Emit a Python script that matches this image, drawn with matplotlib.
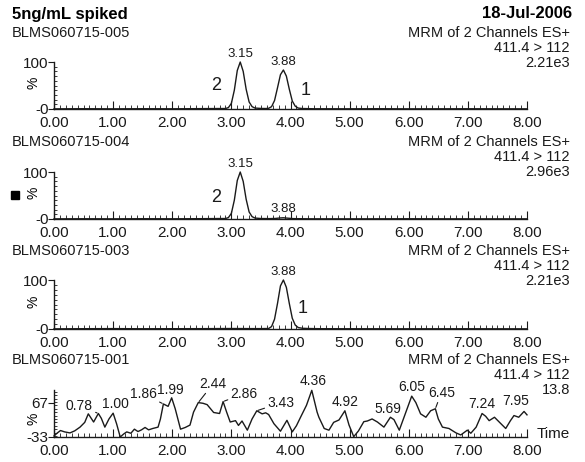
import matplotlib
matplotlib.use("Agg")
import matplotlib.pyplot as plt
from matplotlib.ticker import MultipleLocator, FixedLocator, FixedFormatter

plt.rcParams['font.family'] = ['Liberation Sans', 'DejaVu Sans']

W, H = 585, 462

# --- data (time in min, intensity in %) ---
t_005 = [0.0, 0.5, 1.0, 1.5, 2.0, 2.5, 2.8, 2.90, 2.95, 3.00, 3.05, 3.10, 3.15, 3.20, 3.25,
         3.30, 3.35, 3.40, 3.50, 3.58, 3.63, 3.68, 3.73, 3.78, 3.83, 3.88, 3.93, 3.98,
         4.03, 4.08, 4.13, 4.20, 4.40, 5.0, 5.5, 6.0, 7.0, 8.0]
y_005 = [0.3, 0.6, 0.3, 0.6, 0.4, 0.8, 1.0, 1.0, 3, 12, 40, 82, 100, 80, 42,
         15, 5, 2, 1.2, 1.0, 1.5, 5, 18, 45, 73, 83, 70, 42,
         17, 6, 2, 1.0, 0.5, 0.4, 0.6, 0.3, 0.5, 0.3]

t_004 = [0.0, 0.5, 1.0, 1.5, 2.0, 2.5, 2.8, 2.90, 2.95, 3.00, 3.05, 3.10, 3.15, 3.20, 3.25,
         3.30, 3.35, 3.40, 3.50, 3.65, 3.75, 3.82, 3.88, 3.95, 4.05, 4.3, 5.0, 6.0, 7.0, 8.0]
y_004 = [0.3, 0.5, 0.3, 0.6, 0.4, 0.7, 1.0, 1.0, 3, 12, 40, 82, 100, 80, 42,
         15, 5, 2, 1.0, 0.8, 1.2, 2.2, 2.6, 1.8, 0.8, 0.4, 0.3, 0.5, 0.3, 0.3]

t_003 = [0.0, 0.5, 1.0, 1.5, 2.0, 2.5, 3.0, 3.3, 3.5, 3.63, 3.68, 3.73, 3.78, 3.83, 3.88,
         3.93, 3.98, 4.03, 4.08, 4.13, 4.20, 4.30, 4.5, 5.0, 6.0, 7.0, 8.0]
y_003 = [0.3, 0.6, 0.8, 0.5, 0.6, 0.7, 1.0, 0.8, 0.8, 1.0, 5, 20, 52, 88, 100,
         85, 52, 22, 8, 3, 1.5, 1.0, 0.6, 0.5, 0.4, 0.5, 0.3]

t_001 = [0.00, 0.05, 0.11, 0.18, 0.27, 0.35, 0.44, 0.52, 0.58, 0.67, 0.75, 0.80, 0.86, 0.93,
         1.00, 1.06, 1.12, 1.18, 1.23, 1.30, 1.36, 1.42, 1.48, 1.54, 1.60, 1.67, 1.76, 1.80,
         1.85, 1.93, 1.99, 2.05, 2.14, 2.22, 2.30, 2.36, 2.44, 2.52, 2.59, 2.70, 2.80, 2.86,
         2.92, 2.98, 3.07, 3.12, 3.18, 3.27, 3.35, 3.43, 3.52, 3.58, 3.63, 3.72, 3.83, 3.94,
         4.03, 4.10, 4.17, 4.27, 4.36, 4.45, 4.48, 4.57, 4.65, 4.73, 4.82, 4.92, 4.99, 5.07,
         5.15, 5.24, 5.30, 5.38, 5.47, 5.58, 5.69, 5.75, 5.84, 5.92, 6.05, 6.12, 6.20, 6.29,
         6.37, 6.45, 6.50, 6.57, 6.68, 6.80, 6.88, 6.99, 7.05, 7.14, 7.24, 7.30, 7.36, 7.45,
         7.53, 7.64, 7.72, 7.78, 7.86, 7.95, 8.00]
y_001 = [-30, -22, -14, -18, -21, -15, -4, 10, 35, 11, 36, 22, -4, 20,
         37, 5, -33, -24, -18, -22, -10, -17, -12, -5, -12, -8, -4, 20,
         64, 57, 82, 50, -10, -5, 2, 40, 68, 66, 62, 39, 36, 71,
         40, 11, 15, 1, 14, -13, 20, 44, 35, 38, 33, 6, -16, 16,
         -18, 0, 25, 60, 104, 40, 25, -8, -13, 10, 17, 44, 2, -32,
         -15, 12, 14, 20, 11, -4, 25, 18, -13, 25, 87, 68, 35, 25,
         44, 50, 20, -4, -8, -21, -27, -13, -22, -4, 36, 28, 15, 25,
         11, -8, 15, 30, 25, 42, 32]

sample_names = ['BLMS060715-005', 'BLMS060715-004', 'BLMS060715-003', 'BLMS060715-001']
intensities = ['2.21e3', '2.96e3', '2.21e3', '13.8']
traces = [(t_005, y_005), (t_004, y_004), (t_003, y_003), (t_001, y_001)]

# peak labels: (label, time, value, dx px, dy px to label centre, leader line)
peaks_005 = [('3.15', 3.15, 100, 0, 8, False), ('3.88', 3.88, 83, 0, 8, False)]
peaks_004 = [('3.15', 3.15, 100, 0, 8, False), ('3.88', 3.88, 2.6, 0, 9, False)]
peaks_003 = [('3.88', 3.88, 100, 0, 8, False)]
peaks_001 = [('0.78', 0.75, 36, -19, 8, True), ('1.00', 1.00, 37, 2, 9, False),
             ('1.86', 1.85, 64, -20, 10, True), ('1.99', 1.99, 82, -1, 8, False),
             ('2.44', 2.44, 68, 15, 19, True), ('2.86', 2.86, 71, 21, 8, True),
             ('3.43', 3.43, 44, 24, 8, True), ('4.36', 4.36, 104, 1, 9, False),
             ('4.92', 4.92, 44, 0, 9, False), ('5.69', 5.69, 25, -3, 8, False),
             ('6.05', 6.05, 87, 0, 9, False), ('6.45', 6.45, 50, 6, 16, True),
             ('7.24', 7.24, 36, 0, 10, False), ('7.95', 7.95, 42, -8, 10, False)]
peak_lists = [peaks_005, peaks_004, peaks_003, peaks_001]

# compound numbers next to peaks: (panel, text, time, value)
compound_tags = [(0, '2', 2.75, 50), (0, '1', 4.25, 40), (1, '2', 2.75, 45), (2, '1', 4.2, 42)]

# axes rows in pixels: (y of bottom, y of top), plus y limits
rows = [(109, 62), (219, 172), (329, 280), (437, 390)]
ylims = [(0, 100), (0, 100), (0, 100), (-33, 105)]
yticks = [[0, 100], [0, 100], [0, 100], [-33, 67]]
yticklabels = [['-0', '100'], ['-0', '100'], ['-0', '100'], ['-33', '67']]
pct_pos = [0.55, 0.55, 0.55, 0.38]   # where the "%" sits along each y axis
x_left, x_right = 54, 527
ink = '#1a1a1a'

def fx(px):
    return px / W

def fy(py):
    return 1 - py / H

fig = plt.figure(figsize=(W / 100, H / 100), dpi=100)

axes = []
for i in range(4):
    yb, yt = rows[i]
    ax = fig.add_axes([fx(x_left), fy(yb), (x_right - x_left) / W, (yb - yt) / H])
    t, v = traces[i]
    ax.plot(t, v, color=ink, lw=1.0, clip_on=False)
    ax.set_xlim(0, 8)
    ax.set_ylim(*ylims[i])
    for s in ['top', 'right']:
        ax.spines[s].set_visible(False)
    for s in ['left', 'bottom']:
        ax.spines[s].set_linewidth(1.0)
        ax.spines[s].set_color(ink)
    ax.set_xticks(range(9))
    ax.set_xticklabels(['%.2f' % k for k in range(9)])
    ax.xaxis.set_minor_locator(MultipleLocator(0.1))
    ax.tick_params(axis='x', which='major', direction='in', length=6, width=0.8,
                   labelsize=11, pad=5, colors=ink)
    ax.tick_params(axis='x', which='minor', direction='in', length=3, width=0.6, colors=ink)
    ax.yaxis.set_major_locator(FixedLocator(yticks[i]))
    ax.yaxis.set_major_formatter(FixedFormatter(yticklabels[i]))
    ax.yaxis.set_minor_locator(MultipleLocator(10))
    ax.tick_params(axis='y', which='major', direction='out', length=4, width=0.8,
                   labelsize=11, pad=0, colors=ink)
    ax.tick_params(axis='y', which='minor', direction='in', length=2.5, width=0.6, colors=ink)
    ax.set_ylabel('%', fontsize=10)
    ax.yaxis.set_label_coords(-0.028, pct_pos[i])
    ax.patch.set_visible(False)

    for lab, pt, pv, dx, dy, leader in peak_lists[i]:
        kw = {}
        if leader:
            kw['arrowprops'] = dict(arrowstyle='-', lw=0.8, color=ink,
                                    shrinkA=0, shrinkB=1)
        ax.annotate(lab, xy=(pt, pv), xytext=(dx, dy), textcoords='offset pixels',
                    ha='center', va='center', color=ink,
                    fontsize=10 if i == 3 else 9.5, annotation_clip=False, **kw)
    axes.append(ax)

for panel, txt, pt, pv in compound_tags:
    axes[panel].text(pt, pv, txt, fontsize=13, ha='center', va='center', color=ink)

# header texts
fig.text(fx(12), fy(14), '5ng/mL spiked', fontsize=12, fontweight='bold', va='center')
fig.text(fx(572), fy(14), '18-Jul-2006', fontsize=12, fontweight='bold', va='center', ha='right')

name_y = [33, 142, 251, 360]
for i in range(4):
    y0 = name_y[i]
    fig.text(fx(12), fy(y0), sample_names[i], fontsize=10.5, va='center', color=ink)
    fig.text(fx(570), fy(y0), 'MRM of 2 Channels ES+', fontsize=10.5, va='center',
             ha='right', color=ink)
    fig.text(fx(570), fy(y0 + 15), '411.4 > 112', fontsize=10.5, va='center',
             ha='right', color=ink)
    fig.text(fx(570), fy(y0 + 30), intensities[i], fontsize=10.5, va='center',
             ha='right', color=ink)

fig.text(fx(537), fy(434), 'Time', fontsize=11, va='center', color=ink)

# the small filled marker left of the second trace
fig.patches.append(plt.Rectangle((fx(11), fy(199)), 8 / W, 8 / H, transform=fig.transFigure,
                                 color='black'))

fig.savefig('out.png', dpi=100, facecolor='white')
